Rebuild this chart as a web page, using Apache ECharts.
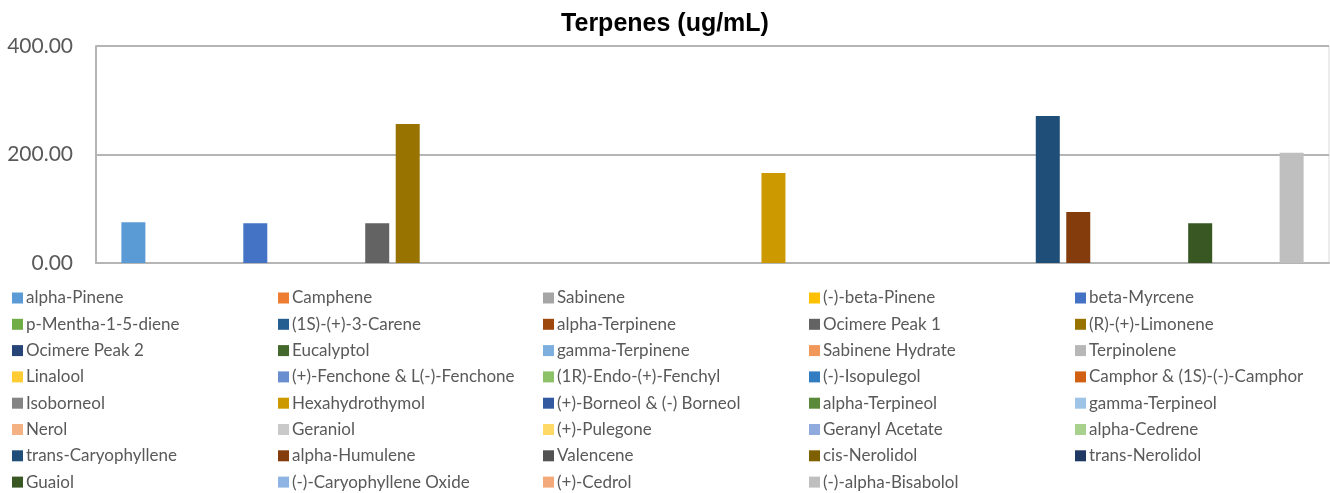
<!DOCTYPE html>
<html>
<head>
<meta charset="utf-8">
<script src="https://cdn.jsdelivr.net/npm/echarts@6/dist/echarts.min.js"></script>
<style>
html,body{margin:0;padding:0;background:#fff;}
#chart{width:1330px;height:493px;}
</style>
</head>
<body>
<div id="chart"></div>
<script>
// ---- data ----
const categories = ['Terpenes'];
const seriesNames = [
  'alpha-Pinene','Camphene','Sabinene','(-)-beta-Pinene','beta-Myrcene',
  'p-Mentha-1-5-diene','(1S)-(+)-3-Carene','alpha-Terpinene','Ocimere Peak 1','(R)-(+)-Limonene',
  'Ocimere Peak 2','Eucalyptol','gamma-Terpinene','Sabinene Hydrate','Terpinolene',
  'Linalool','(+)-Fenchone & L(-)-Fenchone','(1R)-Endo-(+)-Fenchyl','(-)-Isopulegol','Camphor & (1S)-(-)-Camphor',
  'Isoborneol','Hexahydrothymol','(+)-Borneol & (-) Borneol','alpha-Terpineol','gamma-Terpineol',
  'Nerol','Geraniol','(+)-Pulegone','Geranyl Acetate','alpha-Cedrene',
  'trans-Caryophyllene','alpha-Humulene','Valencene','cis-Nerolidol','trans-Nerolidol',
  'Guaiol','(-)-Caryophyllene Oxide','(+)-Cedrol','(-)-alpha-Bisabolol'
];
const seriesValues = [
  75, 0, 0, 0, 73.5,
  0, 0, 0, 73.5, 256,
  0, 0, 0, 0, 0,
  0, 0, 0, 0, 0,
  0, 166, 0, 0, 0,
  0, 0, 0, 0, 0,
  271, 94, 0, 0, 0,
  73.5, 0, 0, 203
];
const seriesColors = [
  '#5B9BD5','#ED7D31','#A5A5A5','#FFC000','#4472C4',
  '#70AD47','#255E91','#9E480E','#636363','#997300',
  '#264478','#43682B','#7CAFDD','#F1975A','#B7B7B7',
  '#FFCD33','#698ED0','#8CC168','#327DC2','#D26012',
  '#848484','#CC9A00','#335AA1','#5A8A39','#9DC3E6',
  '#F4B183','#C9C9C9','#FFD966','#8FAADC','#A9D18E',
  '#1F4E79','#843C0C','#525252','#7F6000','#203864',
  '#385723','#8EB4E3','#F4A97A','#BFBFBF'
];
const yTicks = [0, 200, 400];

// ---- chart ----
const FONT = 'Lato';
const chart = echarts.init(document.getElementById('chart'), null, {renderer: 'canvas'});

const colX = [12, 278, 543, 809, 1075];
const legends = colX.map((x, c) => ({
  orient: 'vertical',
  left: x,
  top: 289,
  itemWidth: 11,
  itemHeight: 11,
  itemGap: 8.3,
  icon: 'rect',
  padding: 0,
  textStyle: {fontFamily: FONT, fontSize: 17, color: '#595959', lineHeight: 18, padding: [0,0,0,-2]},
  data: seriesNames.filter((n, i) => i % 5 === c)
}));

const option = {
  backgroundColor: '#fff',
  animation: false,
  title: {
    text: 'Terpenes (ug/mL)',
    left: 'center',
    top: 7,
    textStyle: {fontFamily: 'Liberation Sans', fontWeight: 'bold', fontSize: 25, color: '#000'}
  },
  legend: legends,
  grid: {left: 96, right: 1, top: 46, bottom: 230, show: true, borderColor: '#d9d9d9', borderWidth: 1},
  xAxis: {
    type: 'category',
    data: categories,
    axisLine: {show: true, lineStyle: {color: '#b5b5b5', width: 2}},
    axisTick: {show: false},
    axisLabel: {show: false}
  },
  yAxis: {
    type: 'value',
    min: yTicks[0],
    max: yTicks[yTicks.length - 1],
    interval: yTicks[1] - yTicks[0],
    axisLine: {show: true, lineStyle: {color: '#b5b5b5', width: 2}},
    axisTick: {show: false},
    splitLine: {lineStyle: {color: '#b5b5b5', width: 2}},
    axisLabel: {
      margin: 23,
      fontFamily: FONT,
      fontSize: 21,
      color: '#595959',
      formatter: v => v.toFixed(2)
    }
  },
  series: seriesNames.map((name, i) => ({
    name: name,
    type: 'bar',
    data: [seriesValues[i]],
    barWidth: 24,
    barGap: '27%',
    itemStyle: {color: seriesColors[i]},
    emphasis: {disabled: true}
  }))
};
chart.setOption(option);
</script>
</body>
</html>
